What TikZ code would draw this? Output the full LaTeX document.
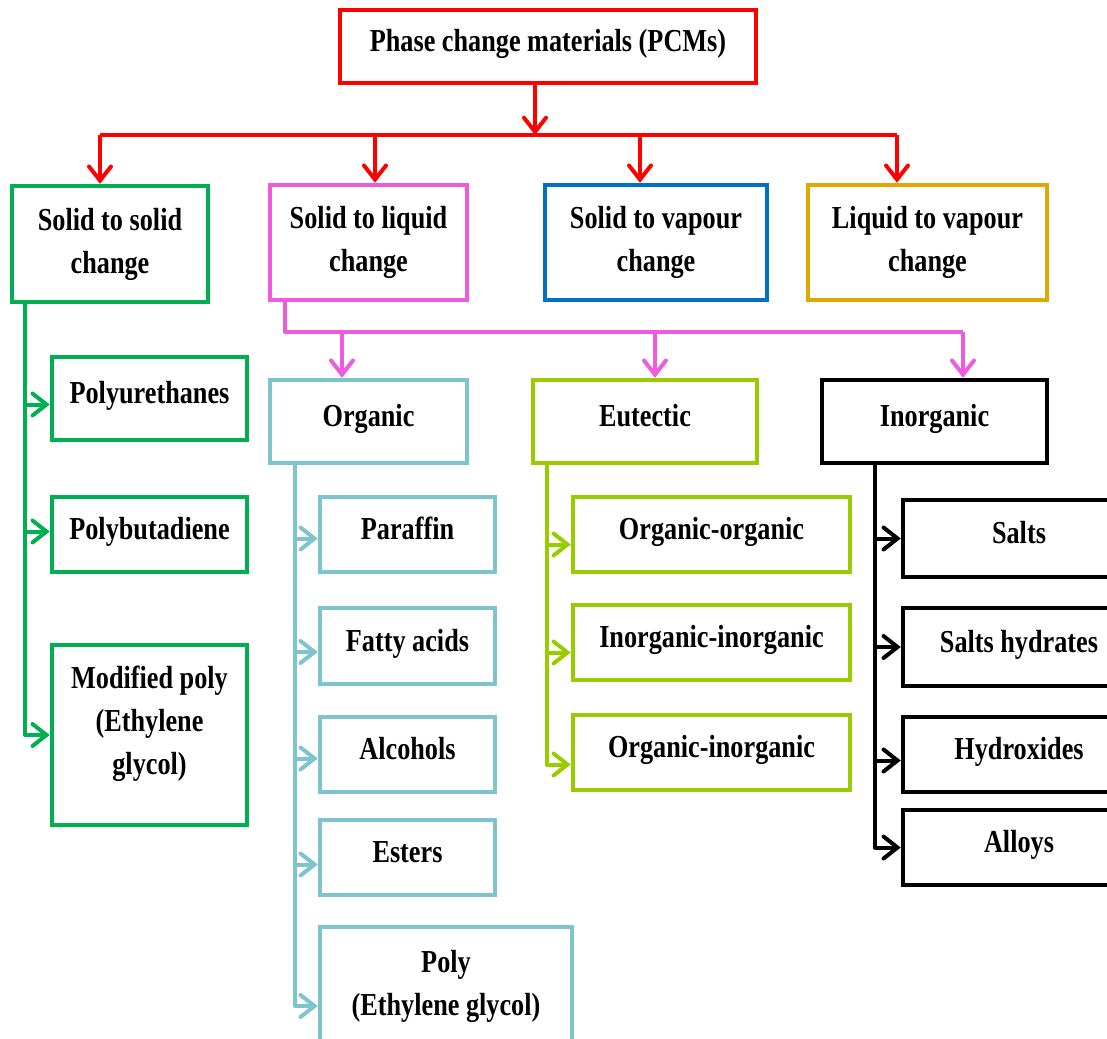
\documentclass[tikz,border=0pt]{standalone}
\usepackage{fontspec}
\setmainfont[FakeStretch=0.82]{Liberation Serif}
\usetikzlibrary{arrows.meta}
\definecolor{cred}{RGB}{255,0,0}
\definecolor{cgreen}{RGB}{0,176,80}
\definecolor{cpink}{RGB}{240,90,220}
\definecolor{cblue}{RGB}{0,112,192}
\definecolor{cgold}{RGB}{224,168,0}
\definecolor{cteal}{RGB}{126,196,204}
\definecolor{clime}{RGB}{153,204,0}
\definecolor{cblack}{RGB}{0,0,0}
\tikzset{
  box/.style={draw=#1, line width=4.5pt, align=center, inner sep=0pt, line join=miter,
    font=\fontsize{32}{43}\selectfont\bfseries},
  one/.style={text height=24pt, text depth=14pt},
  boxtext/.style={align=center, inner sep=0pt, font=\fontsize{32}{43}\selectfont\bfseries},
  conn/.style={draw=#1, line width=4pt, line join=round,
    -{Straight Barb[length=14pt,width=22pt,line cap=round]}},
  wire/.style={draw=#1, line width=4pt, line join=round},
}
\begin{document}
\begin{tikzpicture}[x=1pt,y=-1pt]
\useasboundingbox (0,0) rectangle (1107,1038);
% level 0
\node[box=cred, one, minimum width=416, minimum height=73] (top) at (548,46.5) {Phase change materials (PCMs)};
% level 1
\node[box=cgreen, minimum width=196, minimum height=116] (s2s) at (110,244) {Solid to solid\\change};
\node[box=cpink, minimum width=197, minimum height=115] (s2l) at (368.5,242.5) {Solid to liquid\\change};
\node[box=cblue, minimum width=222, minimum height=115] (s2v) at (656,242.5) {Solid to vapour\\change};
\node[box=cgold, minimum width=239, minimum height=115] (l2v) at (927.5,242.5) {Liquid to vapour\\change};
% solid-solid children
\node[box=cgreen, one, minimum width=195, minimum height=83] (pu) at (149.5,398.5) {Polyurethanes};
\node[box=cgreen, one, minimum width=195, minimum height=75] (pb) at (149.5,534.5) {Polybutadiene};
\node[box=cgreen, minimum width=195, minimum height=180] (mp) at (149.5,735) {};
\node[boxtext] (mpt) at (149.5,724) {Modified poly\\(Ethylene\\glycol)};
% solid-liquid children
\node[box=cteal, one, minimum width=197, minimum height=83] (org) at (368.5,421.5) {Organic};
\node[box=clime, one, minimum width=224, minimum height=83] (eut) at (645,421.5) {Eutectic};
\node[box=cblack, one, minimum width=225, minimum height=83] (ino) at (934.5,421.5) {Inorganic};
% organic children
\node[box=cteal, one, minimum width=175, minimum height=75] (par) at (407.5,534.5) {Paraffin};
\node[box=cteal, one, minimum width=175, minimum height=76] (fa) at (407.5,646) {Fatty acids};
\node[box=cteal, one, minimum width=175, minimum height=75] (alc) at (407.5,754.5) {Alcohols};
\node[box=cteal, one, minimum width=175, minimum height=75] (est) at (407.5,857.5) {Esters};
\node[box=cteal, minimum width=252, minimum height=118] (poly) at (446,986) {Poly\\(Ethylene glycol)};
% eutectic children
\node[box=clime, one, minimum width=277, minimum height=75] (oo) at (711.5,534.5) {Organic-organic};
\node[box=clime, one, minimum width=277, minimum height=75] (ii) at (711.5,642.5) {Inorganic-inorganic};
\node[box=clime, one, minimum width=277, minimum height=75] (oi) at (711.5,752.5) {Organic-inorganic};
% inorganic children
\node[box=cblack, one, minimum width=232, minimum height=77] (sa) at (1019,538.5) {Salts};
\node[box=cblack, one, minimum width=232, minimum height=78] (sh) at (1019,647) {Salts hydrates};
\node[box=cblack, one, minimum width=232, minimum height=75] (hy) at (1019,754.5) {Hydroxides};
\node[box=cblack, one, minimum width=232, minimum height=75] (al) at (1019,847.5) {Alloys};

% red bus
\coordinate (r0) at (535,135);
\coordinate (r1) at (100,135);
\coordinate (r2) at (375,135);
\coordinate (r3) at (640,135);
\coordinate (r4) at (897,135);
\draw[conn=cred] (r0 |- top.south) -- (r0);
\draw[wire=cred] (r1) -- (r4);
\draw[conn=cred] (r1) -- (r1 |- s2s.north);
\draw[conn=cred] (r2) -- (r2 |- s2l.north);
\draw[conn=cred] (r3) -- (r3 |- s2v.north);
\draw[conn=cred] (r4) -- (r4 |- l2v.north);

% green tree
\coordinate (g0) at (25,302);
\draw[conn=cgreen] (g0) |- ([yshift=-6]pu.west);
\draw[conn=cgreen] (g0) |- ([yshift=3]pb.west);
\draw[conn=cgreen] (g0) |- (mp.west);

% pink bus
\coordinate (p0) at (285,300);
\coordinate (p1) at (285,332);
\coordinate (pa) at (342,332);
\coordinate (pb2) at (655,332);
\coordinate (pc) at (963,332);
\draw[wire=cpink] (p0) -- (p1) -- (pc);
\draw[conn=cpink] (pa) -- (pa |- org.north);
\draw[conn=cpink] (pb2) -- (pb2 |- eut.north);
\draw[conn=cpink] (pc) -- (pc |- ino.north);

% teal tree
\coordinate (t0) at (295,463);
\draw[conn=cteal] (t0) |- ([yshift=-4]par.west);
\draw[conn=cteal] (t0) |- ([yshift=-6]fa.west);
\draw[conn=cteal] (t0) |- ([yshift=-4]alc.west);
\draw[conn=cteal] (t0) |- ([yshift=-7]est.west);
\draw[conn=cteal] (t0) |- ([yshift=-20]poly.west);

% lime tree
\coordinate (l0) at (547,463);
\draw[conn=clime] (l0) |- ([yshift=-10]oo.west);
\draw[conn=clime] (l0) |- ([yshift=-10]ii.west);
\draw[conn=clime] (l0) |- ([yshift=-12]oi.west);

% black tree
\coordinate (k0) at (875,463);
\draw[conn=cblack] (k0) |- (sa.west);
\draw[conn=cblack] (k0) |- (sh.west);
\draw[conn=cblack] (k0) |- ([yshift=-6]hy.west);
\draw[conn=cblack] (k0) |- (al.west);
\end{tikzpicture}
\end{document}
